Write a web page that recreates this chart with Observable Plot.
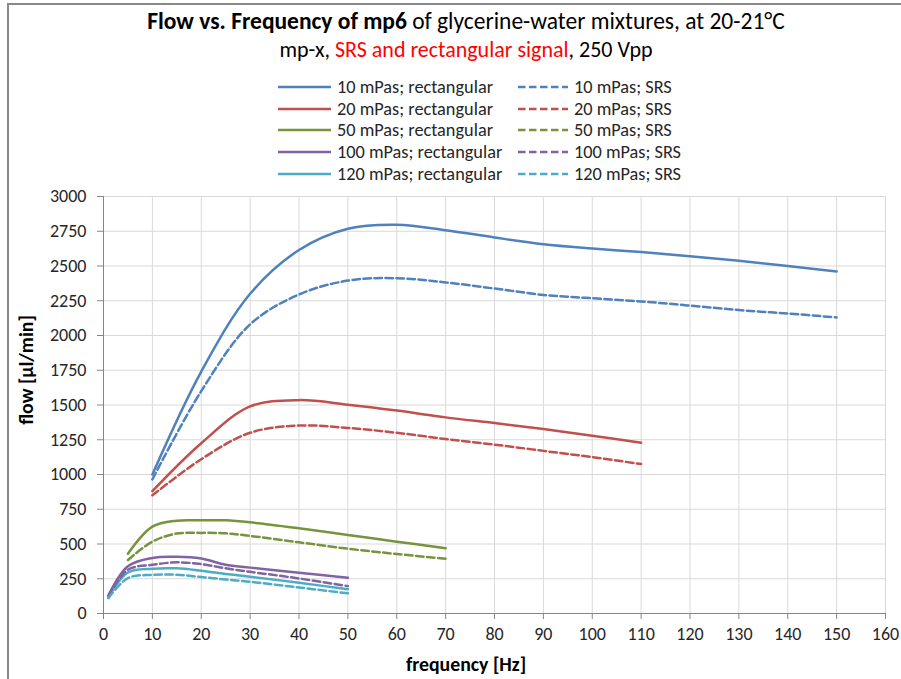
<!DOCTYPE html>
<html>
<head>
<meta charset="utf-8">
<script src="https://cdn.jsdelivr.net/npm/d3@7"></script>
<script src="https://cdn.jsdelivr.net/npm/@observablehq/plot@0.6"></script>
<style>
  html, body { margin: 0; padding: 0; background: #fff; }
  body { width: 901px; height: 679px; position: relative; overflow: hidden; font-family: Carlito, Lato, "Open Sans", sans-serif; color: #000; }
  #frame { position: absolute; left: 7px; top: 3px; width: 1000px; height: 1000px; border-top: 2px solid #898989; border-left: 2px solid #898989; }
  #chart { position: absolute; left: 0; top: 0; }
  .title { position: absolute; left: 0; width: 932px; text-align: center; white-space: nowrap; line-height: 1; }
  .legend { position: absolute; font-size: 18.3px; white-space: nowrap; display: flex; align-items: center; color: #262626; }
  .legend svg { margin-right: 6px; }
  .axt { position: absolute; font-weight: bold; font-size: 19.8px; white-space: nowrap; line-height: 1; }
</style>
</head>
<body>
<div id="frame"></div>
<div id="chart"></div>
<div class="title" style="top:10px; font-size:23.5px"><b>Flow vs. Frequency of mp6</b> of glycerine-water mixtures, at 20-21°C</div>
<div class="title" style="top:39px; font-size:22px">mp-x, <span style="color:#ff0000">SRS and rectangular signal</span>, 250 Vpp</div>
<div id="legend"></div>
<div class="axt" style="left:466px; top:655px; transform: translateX(-50%);">frequency [Hz]</div>
<div class="axt" style="left:27px; top:370px; transform: translate(-50%,-50%) rotate(-90deg);">flow [µl/min]</div>
<script>
// ---- data ----
const viscosities = ["10 mPas", "20 mPas", "50 mPas", "100 mPas", "120 mPas"];
const colors = ["#4F81BD", "#C0504D", "#77933C", "#8064A2", "#4BACC6"];
const xTicks = [0,10,20,30,40,50,60,70,80,90,100,110,120,130,140,150,160];
const yTicks = [0,250,500,750,1000,1250,1500,1750,2000,2250,2500,2750,3000];

const f10 = [10,20,30,40,50,60,70,80,90,100,110,120,130,140,150];
const rect10 = [1000,1740,2300,2615,2768,2797,2758,2705,2657,2626,2600,2571,2537,2500,2461];
const srs10  = [965,1600,2080,2295,2395,2412,2382,2338,2292,2268,2245,2215,2183,2158,2130];

const f20 = [10,20,30,40,50,60,70,80,90,100,110];
const rect20 = [880,1225,1490,1535,1502,1460,1411,1370,1327,1279,1228];
const srs20  = [850,1110,1300,1352,1335,1300,1255,1215,1170,1125,1075];

const f50 = [5,10,15,20,25,30,40,50,60,70];
const rect50 = [430,625,668,670,670,656,613,565,517,469];
const srs50  = [385,517,575,580,577,558,512,466,428,394];

const f100 = [1,5,10,15,20,25,30,40,50];
const rect100 = [130,340,400,408,395,350,330,293,257];
const srs100  = [125,315,350,368,355,325,300,252,197];

const f120 = [1,5,10,15,20,25,30,40,50];
const rect120 = [120,295,322,325,308,285,265,221,175];
const srs120  = [110,255,278,279,262,245,228,187,145];

const seriesList = [
  {name: "10 mPas; rectangular", f: f10, v: rect10, c: 0, dash: false},
  {name: "20 mPas; rectangular", f: f20, v: rect20, c: 1, dash: false},
  {name: "50 mPas; rectangular", f: f50, v: rect50, c: 2, dash: false},
  {name: "100 mPas; rectangular", f: f100, v: rect100, c: 3, dash: false},
  {name: "120 mPas; rectangular", f: f120, v: rect120, c: 4, dash: false},
  {name: "10 mPas; SRS", f: f10, v: srs10, c: 0, dash: true},
  {name: "20 mPas; SRS", f: f20, v: srs20, c: 1, dash: true},
  {name: "50 mPas; SRS", f: f50, v: srs50, c: 2, dash: true},
  {name: "100 mPas; SRS", f: f100, v: srs100, c: 3, dash: true},
  {name: "120 mPas; SRS", f: f120, v: srs120, c: 4, dash: true}
];
const DASH = "7.5,3.5";
const LW = 2.5;

const lineMarks = seriesList.map(s => {
  const data = s.f.map((x, i) => ({x, y: s.v[i]}));
  return Plot.line(data, {x: "x", y: "y", stroke: colors[s.c], strokeWidth: LW,
    strokeDasharray: s.dash ? DASH : null, curve: "catmull-rom"});
});

const chart = Plot.plot({
  width: 901, height: 679,
  marginTop: 196, marginBottom: 66, marginLeft: 103, marginRight: 16,
  style: {fontFamily: "Carlito, Lato, 'Open Sans', sans-serif", fontSize: "18px", color: "#262626", background: "transparent"},
  x: {domain: [0, 160], ticks: xTicks, label: null},
  y: {domain: [0, 3000], ticks: yTicks, label: null},
  marks: [
    Plot.gridX(xTicks.slice(1), {stroke: "#d9d9d9", strokeOpacity: 1}),
    Plot.gridY(yTicks.slice(1), {stroke: "#d9d9d9", strokeOpacity: 1}),
    Plot.axisX(xTicks, {tickSize: 6, tickPadding: 8, stroke: "#868686", label: null, tickFormat: d => String(d)}),
    Plot.axisY(yTicks, {tickSize: 6, tickPadding: 11, stroke: "#868686", label: null, tickFormat: d => String(d)}),
    Plot.ruleY([0], {stroke: "#868686"}),
    Plot.ruleX([0], {stroke: "#868686"}),
    ...lineMarks
  ]
});
document.getElementById("chart").appendChild(chart);

// ---- legend ----
const leg = document.getElementById("legend");
const rowY = [87, 109, 130, 151.5, 173.5];
seriesList.forEach((s, i) => {
  const row = i % 5, col = s.dash ? 1 : 0;
  const div = document.createElement("div");
  div.className = "legend";
  div.style.left = (col ? 518 : 278) + "px";
  div.style.top = (rowY[row] - 11) + "px";
  div.style.height = "22px";
  const w = col ? 50 : 53;
  div.innerHTML = `<svg width="${w}" height="6"><line x1="0" x2="${w}" y1="3" y2="3" stroke="${colors[s.c]}" stroke-width="${LW}" ${s.dash ? `stroke-dasharray="${DASH}"` : ""}/></svg><span>${s.name}</span>`;
  leg.appendChild(div);
});
</script>
</body>
</html>
